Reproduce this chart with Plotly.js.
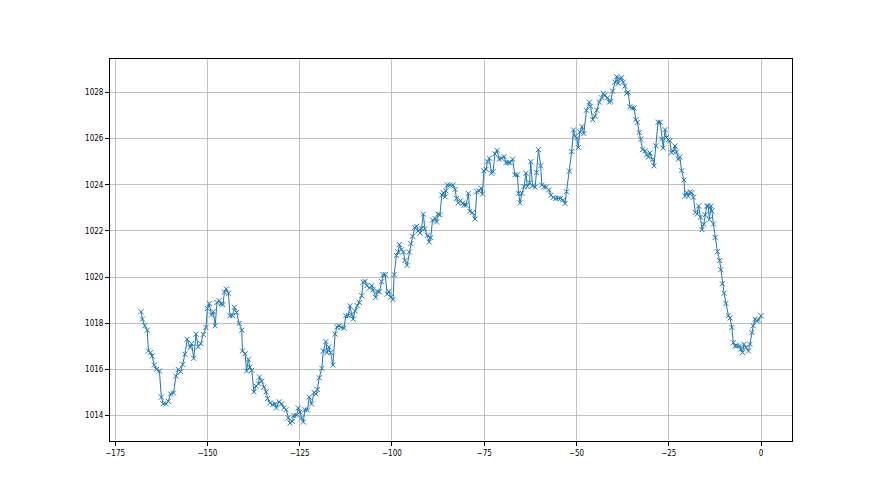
<!DOCTYPE html>
<html>
<head>
<meta charset="utf-8">
<script src="https://cdn.plot.ly/plotly-3.0.1.min.js"></script>
<style>html,body{margin:0;padding:0;background:#fff;}#chart{width:880px;height:495px;}</style>
</head>
<body>
<div id="chart"></div>
<script>
const hours = [
-168.0,-167.6,-167.0,-166.3,-166.0,-165.4,-165.0,-164.4,-163.8,-163.0,
-162.5,-162.0,-161.2,-160.6,-160.0,-159.2,-158.5,-157.9,-157.3,-156.7,
-156.1,-155.5,-154.7,-154.3,-153.7,-153.1,-152.5,-151.8,-151.1,-150.4,
-150.0,-149.5,-148.9,-148.4,-147.9,-147.4,-146.8,-146.3,-145.8,-145.4,
-144.9,-144.3,-143.9,-143.2,-142.7,-142.1,-141.4,-140.7,-140.5,-139.8,
-139.4,-138.9,-138.5,-138.0,-137.4,-136.8,-136.2,-135.9,-135.3,-134.7,
-134.1,-133.7,-133.1,-132.3,-131.7,-131.3,-130.6,-129.9,-129.3,-128.7,
-128.1,-127.6,-127.0,-126.6,-125.8,-125.4,-124.9,-124.5,-124.0,-123.6,
-122.9,-122.4,-121.8,-121.1,-120.6,-120.2,-119.7,-119.0,-118.6,-117.9,
-117.6,-117.1,-116.6,-116.0,-115.4,-114.9,-114.3,-113.8,-113.0,-112.5,
-111.8,-111.4,-110.9,-110.5,-110.0,-109.4,-108.8,-108.2,-107.8,-107.3,
-106.8,-106.1,-105.5,-105.1,-104.4,-104.0,-103.4,-102.8,-102.4,-101.8,
-101.3,-100.8,-100.3,-99.7,-99.4,-98.8,-98.3,-98.0,-97.4,-96.9,
-96.5,-95.9,-95.3,-94.9,-94.4,-93.8,-93.3,-92.9,-92.4,-92.0,
-91.5,-91.1,-90.4,-89.9,-89.5,-89.0,-88.3,-87.9,-87.5,-87.0,
-86.5,-86.1,-85.6,-85.4,-85.0,-84.3,-83.5,-82.9,-82.5,-82.0,
-81.4,-80.8,-80.5,-79.9,-79.3,-78.9,-78.2,-77.5,-77.0,-76.4,
-75.9,-75.5,-75.1,-74.5,-74.1,-73.6,-73.0,-72.6,-72.1,-71.5,
-70.9,-70.3,-69.6,-69.1,-68.5,-68.0,-67.3,-66.7,-66.0,-65.7,
-65.3,-64.8,-64.2,-63.7,-63.3,-62.7,-62.4,-61.9,-61.2,-60.8,
-60.3,-59.7,-59.4,-58.8,-58.2,-57.5,-56.9,-56.3,-55.6,-54.9,
-54.3,-53.6,-53.1,-52.7,-51.9,-51.3,-50.8,-50.4,-49.9,-49.5,
-49.1,-48.5,-48.0,-47.3,-46.5,-46.2,-45.6,-45.0,-44.5,-43.8,
-43.2,-42.7,-42.3,-41.6,-41.1,-40.7,-40.2,-39.6,-39.1,-38.7,
-38.2,-37.8,-37.3,-36.9,-36.4,-36.0,-35.5,-35.0,-34.4,-33.9,
-33.5,-33.0,-32.6,-32.1,-31.4,-31.0,-30.5,-30.1,-29.4,-29.0,
-28.5,-27.9,-27.3,-26.9,-26.5,-26.0,-25.6,-25.1,-24.7,-24.3,
-23.8,-23.3,-22.9,-22.4,-22.0,-21.5,-20.9,-20.6,-20.1,-19.7,
-19.2,-18.8,-18.3,-17.8,-17.3,-16.9,-16.4,-16.0,-15.5,-15.1,
-14.7,-14.3,-14.0,-13.6,-13.3,-12.9,-12.4,-11.8,-11.2,-10.9,
-10.5,-10.0,-9.5,-8.8,-8.4,-7.9,-7.5,-7.0,-6.6,-5.8,
-5.5,-5.0,-4.6,-4.1,-3.4,-3.0,-2.5,-2.1,-1.6,-1.2,
-0.7,0.0
];
const pressure = [
1018.50,1018.18,1017.89,1017.70,1016.80,1016.73,1016.58,1016.19,1016.00,1015.93,
1014.80,1014.51,1014.51,1014.62,1014.94,1014.98,1015.71,1016.00,1015.90,1016.22,
1016.66,1017.31,1016.95,1017.12,1016.48,1017.53,1016.98,1017.12,1017.52,1017.82,
1018.64,1018.86,1018.36,1018.50,1017.89,1018.90,1018.98,1018.84,1018.81,1019.35,
1019.49,1019.30,1018.33,1018.33,1018.69,1018.47,1017.99,1017.70,1016.80,1016.68,
1015.93,1016.44,1016.10,1015.96,1015.03,1015.28,1015.38,1015.67,1015.49,1015.23,
1015.03,1014.74,1014.55,1014.48,1014.51,1014.33,1014.60,1014.51,1014.33,1014.26,
1013.90,1013.68,1013.75,1014.01,1014.01,1014.33,1014.16,1013.90,1013.72,1014.26,
1014.24,1014.80,1014.50,1015.00,1014.94,1015.13,1015.64,1016.05,1016.80,1017.21,
1016.73,1016.98,1016.73,1016.19,1017.53,1017.85,1017.89,1017.82,1017.79,1018.33,
1018.33,1018.76,1018.37,1018.18,1018.54,1018.76,1018.90,1019.20,1019.78,1019.82,
1019.63,1019.53,1019.63,1019.45,1019.12,1019.38,1019.36,1019.80,1020.11,1020.11,
1019.26,1019.38,1019.13,1019.03,1020.11,1020.94,1021.09,1021.42,1021.19,1021.09,
1020.72,1020.51,1021.09,1021.45,1021.77,1022.15,1022.20,1022.00,1021.91,1022.10,
1022.73,1022.10,1021.81,1021.52,1021.71,1022.47,1022.54,1022.39,1022.73,1022.70,
1023.56,1023.66,1023.48,1023.74,1023.99,1023.99,1023.99,1023.80,1023.41,1023.22,
1023.31,1023.20,1023.12,1023.12,1023.63,1022.85,1022.80,1022.52,1023.70,1023.74,
1023.85,1023.60,1024.61,1024.67,1025.00,1025.15,1024.50,1024.57,1025.34,1025.49,
1025.11,1025.15,1025.22,1024.96,1024.96,1024.96,1025.11,1024.43,1024.43,1023.63,
1023.22,1023.63,1023.92,1024.50,1023.92,1024.09,1025.00,1023.95,1023.90,1024.53,
1025.52,1024.82,1023.99,1023.92,1023.90,1023.78,1023.55,1023.45,1023.41,1023.41,
1023.41,1023.34,1023.19,1023.70,1024.59,1025.44,1026.38,1026.10,1026.03,1025.61,
1026.29,1026.52,1026.22,1027.23,1027.58,1027.40,1026.82,1026.97,1027.23,1027.58,
1027.77,1027.96,1027.87,1027.77,1027.58,1027.62,1028.06,1028.45,1028.68,1028.39,
1028.60,1028.64,1028.45,1028.27,1027.96,1028.01,1027.38,1027.33,1027.33,1026.82,
1026.71,1026.27,1025.98,1025.52,1025.47,1025.30,1025.20,1025.38,1025.10,1024.82,
1025.69,1026.71,1026.71,1025.98,1025.59,1026.39,1026.05,1025.95,1025.90,1025.40,
1025.46,1025.68,1025.42,1025.11,1025.20,1024.61,1024.21,1023.51,1023.66,1023.51,
1023.70,1023.65,1023.46,1022.80,1022.73,1023.08,1022.60,1022.06,1022.29,1022.70,
1023.08,1023.08,1022.50,1023.08,1022.87,1022.30,1021.72,1021.10,1020.72,1020.32,
1019.71,1019.30,1018.86,1018.33,1018.23,1017.82,1017.16,1017.02,1017.02,1017.02,
1016.88,1016.73,1017.09,1016.95,1016.80,1017.09,1017.60,1017.89,1018.18,1018.11,
1018.14,1018.33
];
const xTicks = [-175,-150,-125,-100,-75,-50,-25,0];
const xTickText = ['\u2212175','\u2212150','\u2212125','\u2212100','\u221275','\u221250','\u221225','0'];
const yTicks = [1014,1016,1018,1020,1022,1024,1026,1028];

const tickFont = {family:'"DejaVu Sans Condensed", "DejaVu Sans", sans-serif', size:8, color:'#000'};
const axisCommon = {
  showline:true, linecolor:'#000', linewidth:1, mirror:true,
  ticks:'outside', ticklen:4, tickwidth:1, tickcolor:'#000',
  showgrid:true, gridcolor:'#b0b0b0', gridwidth:0.8,
  zeroline:false, tickfont:tickFont
};
const trace = {
  x: hours, y: pressure, type:'scatter', mode:'lines+markers',
  line:{color:'#1f77b4', width:1},
  marker:{symbol:'x-thin', size:5, color:'#1f77b4', line:{color:'#1f77b4', width:1}},
  hoverinfo:'skip'
};
const layout = {
  width:880, height:495,
  margin:{l:110, r:88, t:59, b:54, pad:0},
  paper_bgcolor:'#fff', plot_bgcolor:'#fff',
  showlegend:false,
  xaxis: Object.assign({}, axisCommon, {range:[-176.4, 8.4], tickvals:xTicks, ticktext:xTickText, autorange:false}),
  yaxis: Object.assign({}, axisCommon, {range:[1012.9, 1029.45], tickvals:yTicks, autorange:false})
};
Plotly.newPlot('chart', [trace], layout, {displayModeBar:false, staticPlot:true});
</script>
</body>
</html>
